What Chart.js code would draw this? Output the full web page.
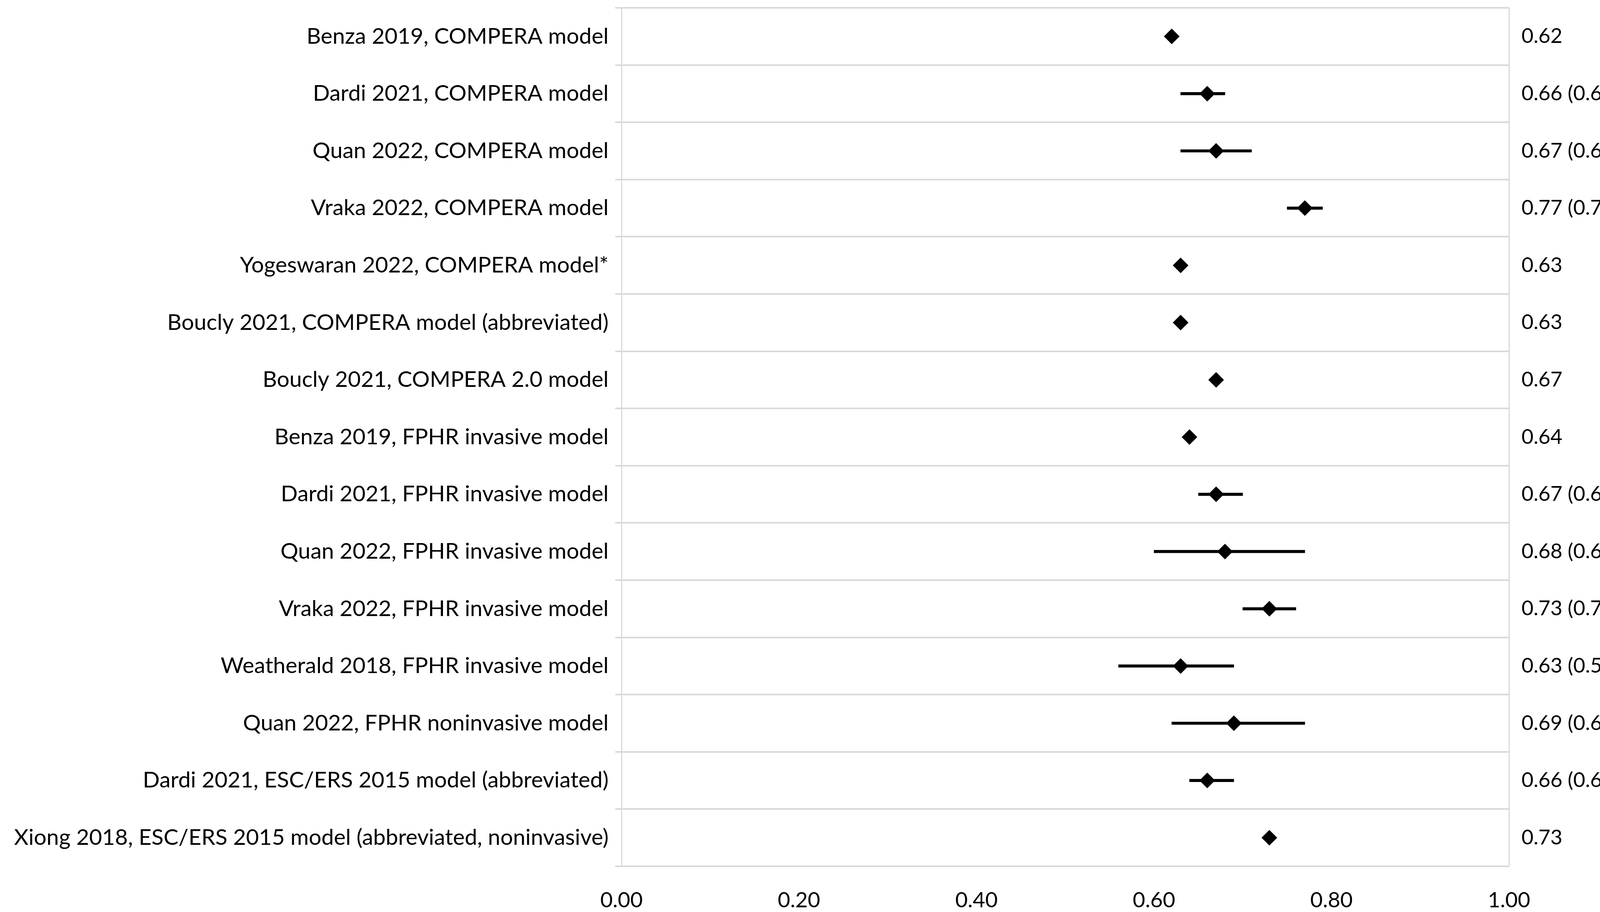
<!DOCTYPE html>
<html>
<head>
<meta charset="utf-8">
<script src="https://cdn.jsdelivr.net/npm/chart.js@4.4.1/dist/chart.umd.min.js"></script>
<style>
html, body { margin: 0; padding: 0; background: #ffffff; overflow: hidden; }
#wrap { width: 4317px; height: 2336px; }
</style>
</head>
<body>
<div id="wrap"><canvas id="c" width="4317" height="2336"></canvas></div>
<script>
const studies = [
  "Benza 2019, COMPERA model",
  "Dardi 2021, COMPERA model",
  "Quan 2022, COMPERA model",
  "Vraka 2022, COMPERA model",
  "Yogeswaran 2022, COMPERA model*",
  "Boucly 2021, COMPERA model (abbreviated)",
  "Boucly 2021, COMPERA 2.0 model",
  "Benza 2019, FPHR invasive model",
  "Dardi 2021, FPHR invasive model",
  "Quan 2022, FPHR invasive model",
  "Vraka 2022, FPHR invasive model",
  "Weatherald 2018, FPHR invasive model",
  "Quan 2022, FPHR noninvasive model",
  "Dardi 2021, ESC/ERS 2015 model (abbreviated)",
  "Xiong 2018, ESC/ERS 2015 model (abbreviated, noninvasive)"
];
const auc    = [0.62, 0.66, 0.67, 0.77, 0.63, 0.63, 0.67, 0.64, 0.67, 0.68, 0.73, 0.63, 0.69, 0.66, 0.73];
const ciLow  = [null, 0.63, 0.63, 0.75, null, null, null, null, 0.65, 0.60, 0.70, 0.56, 0.62, 0.64, null];
const ciHigh = [null, 0.68, 0.71, 0.79, null, null, null, null, 0.70, 0.77, 0.76, 0.69, 0.77, 0.69, null];
const rightLabels = [
  "0.62",
  "0.66 (0.63-0.68)",
  "0.67 (0.63-0.71)",
  "0.77 (0.75-0.79)",
  "0.63",
  "0.63",
  "0.67",
  "0.64",
  "0.67 (0.65-0.70)",
  "0.68 (0.60-0.77)",
  "0.73 (0.70-0.76)",
  "0.63 (0.56-0.69)",
  "0.69 (0.62-0.77)",
  "0.66 (0.64-0.69)",
  "0.73"
];
const xTicks = [0, 0.2, 0.4, 0.6, 0.8, 1.0];

const FONT_LEFT = { family: "Lato", size: 57 };
const FONT_RIGHT = { family: "Lato", size: 53 };
const FONT_X = { family: "Lato", size: 55 };
const GRID = "#d9d9d9";

const ciData = ciLow.map((l, i) => (l === null ? null : [l, ciHigh[i]]));

function noVPad(s) { s.paddingTop = 0; s.paddingBottom = 0; }

new Chart(document.getElementById("c"), {
  type: "bar",
  data: {
    labels: studies,
    datasets: [
      {
        type: "bar",
        indexAxis: "y",
        data: ciData,
        backgroundColor: "#000000",
        borderWidth: 0,
        barThickness: 7,
        xAxisID: "x",
        yAxisID: "y",
        order: 2
      },
      {
        type: "line",
        indexAxis: "y",
        data: auc,
        showLine: false,
        pointStyle: "rectRot",
        pointRadius: 20,
        pointBackgroundColor: "#000000",
        pointBorderWidth: 0,
        pointBorderColor: "#000000",
        xAxisID: "x",
        yAxisID: "y",
        order: 1
      }
    ]
  },
  options: {
    indexAxis: "y",
    responsive: false,
    animation: false,
    devicePixelRatio: 1,
    layout: { padding: { top: 13, left: 0, right: 0, bottom: 0 } },
    plugins: { legend: { display: false }, tooltip: { enabled: false } },
    scales: {
      x: {
        type: "linear",
        position: "bottom",
        min: 0,
        max: 1,
        afterBuildTicks: (s) => { s.ticks = xTicks.map(v => ({ value: v })); },
        ticks: {
          font: FONT_X,
          color: "#000000",
          padding: 46,
          callback: (v) => Number(v).toFixed(2)
        },
        grid: { display: false },
        border: { display: false },
        afterFit: (s) => { s.height = 117; s.paddingLeft = 0; s.paddingRight = 0; }
      },
      y: {
        type: "category",
        position: "left",
        offset: true,
        grid: {
          display: true,
          offset: true,
          color: GRID,
          lineWidth: 4,
          drawTicks: true,
          tickLength: 16
        },
        border: { display: true, color: GRID, width: 3 },
        ticks: { font: FONT_LEFT, color: "#000000", padding: 17, autoSkip: false },
        afterFit: (s) => { s.width = 1591; noVPad(s); }
      },
      y2: {
        type: "category",
        position: "right",
        labels: rightLabels,
        offset: true,
        grid: { display: false },
        border: { display: true, color: GRID, width: 3 },
        ticks: { font: FONT_RIGHT, color: "#000000", padding: 24, autoSkip: false },
        afterFit: (s) => { s.width = 454; noVPad(s); }
      }
    }
  }
});
</script>
</body>
</html>
